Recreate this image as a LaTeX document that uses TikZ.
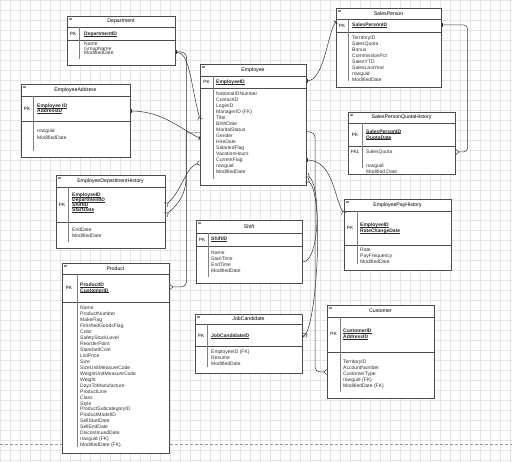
\documentclass[tikz,border=0pt]{standalone}
\usepackage{fontspec}
\setmainfont{Liberation Sans}
\usetikzlibrary{arrows.meta}

% field font with a given line pitch
\newcommand{\fsz}[1]{\fontsize{5}{#1}\selectfont\lineskiplimit=-5pt\relax}
% key column underline, kept close to the baseline
\newcommand{\keyul}[1]{\setbox0\hbox{#1}\rlap{\rule[-0.7pt]{\wd0}{0.3pt}}\box0}

\tikzset{
  tbl/.style={draw=black!70, line width=0.6pt, fill=white, anchor=north west, inner sep=0pt},
  ttl/.style={font=\fontsize{5.2}{6}\selectfont, inner sep=0pt},
  fld/.style={font=\fsz{6}, text=black!80, align=left, anchor=north west, inner sep=0pt},
  pkfld/.style={fld, font=\fsz{6}\bfseries, text=black!85},
  key/.style={font=\fontsize{4.6}{6}\selectfont, inner sep=0pt},
  rowln/.style={draw=black!70, line width=0.6pt},
  sepln/.style={draw=black!50, line width=0.9pt},
  gridln/.style={draw=black!10, line width=0.3pt},
  rel/.style={draw=black!80, line width=0.5pt},
  crow/.tip={Straight Barb[reversed,length=3pt,width=5pt,line width=0.5pt]},
  one/.tip={Bar[width=4pt,line width=0.5pt] Bar[width=4pt,line width=0.5pt]},
  zmany/.tip={Straight Barb[reversed,length=3pt,width=5pt,line width=0.5pt] Circle[open,length=2.2pt,width=2.2pt,line width=0.5pt]},
}

% one entity box: name, x0, y0, x1, y1, title line, key line, column line, title
\newcommand{\ertable}[9]{%
  \node[tbl, minimum width={#4-#2}, minimum height={#5-#3}] (#1) at (#2,#3) {};
  \draw[rowln] (#2,#6) -- (#4,#6) (#2,#7) -- (#4,#7);
  \draw[sepln] (#8,#6) -- (#8,{#5-6});
  \fill[black!45] ({#2+2},{#3+2}) rectangle ({#2+5},{#3+4});
  \node[ttl] (#1-title) at ({(#2+#4)/2},{(#3+#6)/2}) {#9};
}

\begin{document}
\begin{tikzpicture}[x=1pt, y=-1pt]
  \useasboundingbox (0,0) rectangle (512,462);
  \fill[white] (0,0) rectangle (512,462);
  \foreach \gx in {0,10,...,510} \draw[gridln] (\gx,0) -- (\gx,462);
  \foreach \gy in {0,10,...,460} \draw[gridln] (0,\gy) -- (512,\gy);
  \draw[black!40, dash pattern=on 3pt off 2pt, line width=0.4pt] (0,444) -- (512,444);

  % Department
  \ertable{dept}{67}{16}{175}{65}{27}{40}{79}{Department}
  \node[key] (dept-pk) at (73,33.5) {PK};
  \node[pkfld, anchor=west] (dept-id) at (84,34) {\keyul{DepartmentID}};
  \node[fld, font=\fsz{4.5}] (dept-f) at (84,42.2) {Name\\GroupName\\ModifiedDate};

  % EmployeeAddress
  \ertable{ea}{21}{84}{130}{157}{96}{121}{33}{EmployeeAddress}
  \node[key] (ea-pk) at (27,108.5) {PK};
  \node[pkfld, font=\fsz{4.7}\bfseries] (ea-id) at (37,103.9) {\keyul{Employee ID}\\\keyul{AddressID}};
  \node[fld, font=\fsz{7}] (ea-f) at (37,128.5) {rowguid\\ModifiedDate};

  % Employee
  \ertable{emp}{200}{64}{306}{185}{76}{88}{213}{Employee}
  \node[key] (emp-pk) at (206.5,82) {PK};
  \node[pkfld, anchor=west] (emp-id) at (216,82) {\keyul{EmployeeID}};
  \node[fld] (emp-f) at (216,91.5) {NationalIDNumber\\ContactID\\LoginID\\ManagerID (FK)\\Title\\BirthDate\\MaritalStatus\\Gender\\HireDate\\SalariedFlag\\VacationHours\\CurrentFlag\\rowguid\\ModifiedDate};

  % SalesPerson
  \ertable{sp}{336}{8}{441}{87}{19}{32}{348}{SalesPerson}
  \node[key] (sp-pk) at (342,25.5) {PK};
  \node[pkfld, anchor=west] (sp-id) at (352,25.5) {\keyul{SalesPersonID}};
  \node[fld] (sp-f) at (352,35.5) {TerritoryID\\SalesQuota\\Bonus\\CommissionPct\\SalesYTD\\SalesLastYear\\rowguid\\ModifiedDate};

  % SalesPersonQuotaHistory
  \ertable{spqh}{348}{112}{455}{174}{123}{146}{362}{SalesPersonQuotaHistory}
  \node[key] (spqh-pk) at (355,134.5) {PK};
  \node[pkfld] (spqh-id) at (366,129.2) {\keyul{SalesPersonID}\\\keyul{QuotaDate}};
  \node[key] (spqh-fk) at (355,152) {FK1};
  \node[fld, anchor=west] (spqh-q) at (366,152) {SalesQuota};
  \node[fld] (spqh-f) at (366,163.2) {rowguid\\Modified Date};

  % EmployeeDepartmentHistory
  \ertable{edh}{56}{175}{165}{248}{187}{222}{68}{EmployeeDepartmentHistory}
  \node[key] (edh-pk) at (62,204.5) {PK};
  \node[pkfld, font=\fsz{4.9}\bfseries] (edh-id) at (72,193) {\keyul{EmployeeID}\\\keyul{DepartmentID}\\\keyul{ShiftID}\\\keyul{StartDate}};
  \node[fld] (edh-f) at (72,227.5) {EndDate\\ModifiedDate};

  % EmployeePayHistory
  \ertable{eph}{344}{199}{451}{270}{211}{245}{357}{EmployeePayHistory}
  \node[key] (eph-pk) at (350,228) {PK};
  \node[pkfld] (eph-id) at (360,222.5) {\keyul{EmployeeID}\\\keyul{RateChangeDate}};
  \node[fld] (eph-f) at (360,247.5) {Rate\\PayFrequency\\ModifiedDate};

  % Shift
  \ertable{shift}{196}{220}{302}{283}{233}{246}{208}{Shift}
  \node[key] (shift-pk) at (202,239.5) {PK};
  \node[pkfld, anchor=west] (shift-id) at (211,239.5) {\keyul{ShiftID}};
  \node[fld] (shift-f) at (211,251) {Name\\StartTime\\EndTime\\ModifiedDate};

  % Product
  \ertable{prod}{62}{263}{169}{453}{274}{302}{77}{Product}
  \node[key] (prod-pk) at (69,288) {PK};
  \node[pkfld, font=\fsz{5.2}\bfseries] (prod-id) at (80,283) {\keyul{ProductID}\\\keyul{CustomerID}};
  \node[fld, font=\fsz{5.95}] (prod-f) at (80,306.2) {Name\\ProductNumber\\MakeFlag\\FinishedGoodsFlag\\Color\\SafetyStockLevel\\ReorderPoint\\StandardCost\\ListPrice\\Size\\SizeUnitMeasureCode\\WeightUnitMeasureCode\\Weight\\DaysToManufacture\\ProductLine\\Class\\Style\\ProductSubcategoryID\\ProductModelID\\SellStartDate\\SellEndDate\\DiscontinuedDate\\rowguid (FK)\\ModifiedDate (FK)};

  % JobCandidate
  \ertable{jc}{195}{314}{302}{373}{324}{346}{207}{JobCandidate}
  \node[key] (jc-pk) at (201,336) {PK};
  \node[pkfld, anchor=west] (jc-id) at (211,336.5) {\keyul{JobCandidateID}};
  \node[fld] (jc-f) at (211,350) {EmployeeID (FK)\\Resume\\ModifiedDate};

  % Customer
  \ertable{cust}{327}{305}{434}{398}{317}{352}{340}{Customer}
  \node[key] (cust-pk) at (333.5,334) {PK};
  \node[pkfld] (cust-id) at (343,329.2) {\keyul{CustomerID}\\\keyul{AddressID}};
  \node[fld] (cust-f) at (343,359.2) {TerritoryID\\AccountNumber\\CustomerType\\rowguid (FK)\\ModifiedDate (FK)};

  % relationships
  \draw[rel, one-crow] ([yshift=-36pt]dept.north east) .. controls +(14,0) and +(-10,-40) .. ([yshift=-56pt]emp.north west);
  \draw[rel, rounded corners=6pt, one-crow] ([yshift=-36pt]dept.north east) -| ([xshift=17pt,yshift=-24pt]prod.north east) -- ([yshift=-24pt]prod.north east);
  \draw[rel, -crow] ([yshift=-69pt]emp.north west) -- ++(-14,0) -- ++(0,44) .. controls +(0,18) and +(12,-10) .. ([yshift=-40pt]edh.north east);
  \draw[rel, crow-crow] ([yshift=-99pt]emp.north west) .. controls +(-14,4) and +(16,-14) .. ([yshift=-30pt]edh.north east);
  \draw[rel, one-one] ([yshift=-27pt]ea.north east) .. controls +(34,0) and +(-16,-6) .. ([yshift=-74pt]emp.north west);
  \draw[rel, one-one] ([yshift=-17pt]emp.north east) .. controls +(18,0) and +(-8,8) .. ([yshift=-14pt]sp.north west);
  \draw[rel, rounded corners=4pt, one-crow] ([yshift=-17pt]sp.north east) -| ([xshift=12pt,yshift=-40pt]spqh.north east) -- ([yshift=-40pt]spqh.north east);
  \draw[rel, rounded corners=5pt, -crow] ([yshift=-68pt]emp.north east) -| ([xshift=-12pt,yshift=-67pt]cust.north west) -- ([yshift=-67pt]cust.north west);
  \draw[rel, one-crow] ([yshift=-96pt]emp.north east) .. controls +(26,0) and +(-10,-18) .. ([yshift=-15pt]eph.north west);
  \draw[rel, -crow] ([yshift=-42pt]shift.north east) .. controls +(18,0) and +(14,10) .. ([yshift=-111pt]emp.north east);
  \draw[rel, zmany-crow] ([yshift=-23pt]jc.north east) .. controls +(14,-10) and +(18,14) .. ([yshift=-116pt]emp.north east);
\end{tikzpicture}
\end{document}
